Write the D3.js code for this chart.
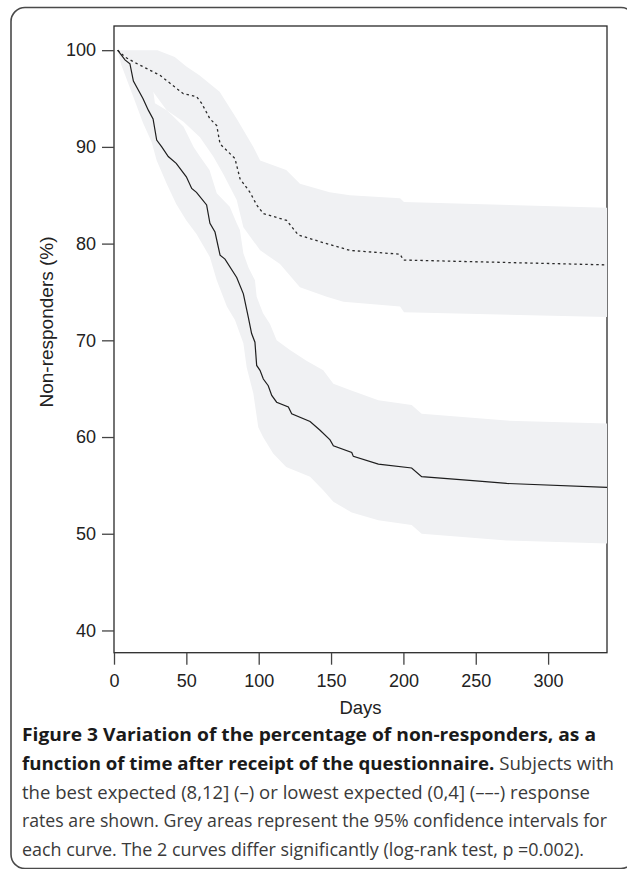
<!DOCTYPE html>
<html>
<head>
<meta charset="utf-8">
<script src="https://cdn.jsdelivr.net/npm/d3@7"></script>
<style>
  html, body { margin: 0; padding: 0; background: #fff; }
  svg { display: block; }
</style>
</head>
<body>
<svg id="chart"></svg>
<script>
// best expected (8,12] -- solid
const bestDays = [2.5, 7.6, 11, 13.4, 20, 23.7, 27, 29.5, 33, 37.5, 43, 50, 53.7, 57, 64, 66.3, 69.8, 73.3, 76.7, 84.8, 89.4, 92.8, 95.1, 97.4, 98.6, 100.9, 103.2, 106.6, 109, 112.4, 120.5, 122.8, 135.5, 142.4, 149.3, 151.6, 164.3, 165.4, 182.7, 205.7, 212.6, 248, 271.4, 340.7];
const bestPct  = [100, 99, 98.6, 96.8, 95, 93.8, 92.9, 90.7, 90, 89, 88.3, 86.9, 85.7, 85.3, 84, 82.1, 81.2, 78.8, 78.4, 76.5, 74.8, 72.4, 70.7, 69.8, 67.4, 66.9, 66, 65.3, 64.3, 63.6, 63.1, 62.4, 61.6, 60.7, 59.7, 59.1, 58.4, 58, 57.2, 56.8, 55.9, 55.5, 55.2, 54.8];

// lowest expected (0,4] -- dotted
const lowDays = [2.5, 7.6, 13.4, 31.8, 47.9, 57, 60.6, 66.3, 71, 73.3, 83.6, 87.1, 94, 98.6, 103.2, 119.3, 127.3, 142.4, 163, 197.7, 200, 340.7];
const lowPct  = [100, 99.3, 98.8, 97.4, 95.5, 95.2, 94.5, 92.9, 92.2, 90.3, 88.8, 86.7, 85.3, 84, 83.1, 82.4, 80.9, 80.2, 79.3, 78.9, 78.3, 77.8];

// 95% CI, best expected
const bestUpDays = [2.5, 10, 20, 27, 28.3, 36.4, 40, 48, 55, 59.4, 66, 71, 80, 84.8, 87, 89.4, 93, 97.4, 98.6, 103, 107.8, 112.4, 121.6, 133, 144.6, 151.6, 164, 182.7, 205.7, 212.6, 271.4, 340.7];
const bestUpPct  = [100, 99.5, 97.5, 95.9, 94.5, 93.8, 93.3, 92.1, 90, 89, 87.6, 85.2, 83.8, 82.1, 81.4, 79, 77.5, 76.2, 74.5, 72.8, 71.7, 70, 69, 67.9, 66.9, 65.5, 64.8, 63.8, 63.3, 62.4, 61.7, 61.4];
const bestLoDays = [2.5, 5, 10, 15, 20, 26, 29.5, 36.4, 43, 50, 57, 66.3, 71, 78, 83.6, 89.4, 91.7, 96.3, 99.7, 103, 110, 119, 135.5, 144.6, 151.6, 164.3, 182.7, 205.7, 212.6, 271.4, 340.7];
const bestLoPct  = [100, 98.5, 96.5, 94.5, 92.5, 90.5, 88.6, 86.2, 84.1, 82.4, 81, 78.6, 76.2, 73.5, 72.1, 69.7, 67.2, 64.5, 61, 60, 58.3, 56.9, 55.9, 54.5, 53.3, 52.2, 51.4, 50.9, 50, 49.3, 49];

// 95% CI, lowest expected
const lowUpDays = [2.5, 30, 42, 50, 59, 73, 84.8, 96.3, 101, 119, 128.5, 149, 163, 197.7, 200.4, 340.7];
const lowUpPct  = [100, 100, 99.3, 98.3, 97.4, 95.7, 92.9, 90, 88.6, 87.6, 86.2, 85.3, 85, 84.7, 84.3, 83.7];
const lowLoDays = [2.5, 10, 20, 27, 36.4, 48, 59.4, 68.6, 75.5, 84.8, 89.4, 101, 114.7, 128.5, 147, 158.5, 197.7, 200.4, 340.7];
const lowLoPct  = [100, 98, 96.8, 95.7, 93.8, 92.6, 91, 89, 87.2, 84.5, 81.7, 79.3, 77.9, 75.5, 74.5, 74, 73.5, 72.9, 72.4];

const xTicks = [0, 50, 100, 150, 200, 250, 300];
const yTicks = [40, 50, 60, 70, 80, 90, 100];

const captionLines = [
  [{t: "Figure 3 Variation of the percentage of non-responders, as a", b: true}],
  [{t: "function of time after receipt of the questionnaire.", b: true}, {t: " Subjects with", b: false}],
  [{t: "the best expected (8,12] (\u2013) or lowest expected (0,4] (\u2013\u2013-) response", b: false}],
  [{t: "rates are shown. Grey areas represent the 95% confidence intervals for", b: false}],
  [{t: "each curve. The 2 curves differ significantly (log-rank test, p =0.002).", b: false}]
];

//------------------------------

const W = 627, H = 869;
const frame = {left: 114, right: 607, top: 26, bottom: 652.7};

const svg = d3.select("#chart")
  .attr("width", W)
  .attr("height", H);

const x = d3.scaleLinear().domain([0, 340.7]).range([frame.left, frame.right]);
const y = d3.scaleLinear().domain([37.7, 102.5]).range([frame.bottom, frame.top]);

const zip = (ds, ps) => ds.map((d, i) => [d, ps[i]]);

// outer rounded border
svg.append("rect")
  .attr("x", 11)
  .attr("y", 7.5)
  .attr("width", 624)
  .attr("height", 861)
  .attr("rx", 14)
  .attr("fill", "none")
  .attr("stroke", "#4a4a4a")
  .attr("stroke-width", 1.6);

// plot frame
svg.append("rect")
  .attr("x", frame.left)
  .attr("y", frame.top)
  .attr("width", frame.right - frame.left)
  .attr("height", frame.bottom - frame.top)
  .attr("fill", "none")
  .attr("stroke", "#2a2a2a")
  .attr("stroke-width", 1.3);

// confidence bands
const line = d3.line().x(d => x(d[0])).y(d => y(d[1]));
function band(upD, upP, loD, loP){
  const pts = zip(upD, upP).concat(zip(loD, loP).reverse());
  svg.append("path")
    .attr("d", line(pts) + "Z")
    .attr("fill", "#f0f1f3")
    .attr("stroke", "none");
}
band(lowUpDays, lowUpPct, lowLoDays, lowLoPct);
band(bestUpDays, bestUpPct, bestLoDays, bestLoPct);

// curves
svg.append("path")
  .attr("d", line(zip(lowDays, lowPct)))
  .attr("fill", "none")
  .attr("stroke", "#2b2b2b")
  .attr("stroke-width", 1.3)
  .attr("stroke-dasharray", "2.5,3");
svg.append("path")
  .attr("d", line(zip(bestDays, bestPct)))
  .attr("fill", "none")
  .attr("stroke", "#1e1e1e")
  .attr("stroke-width", 1.2);

// axes
const yAxis = svg.append("g")
  .attr("transform", `translate(${frame.left},0)`)
  .call(d3.axisLeft(y).tickValues(yTicks).tickSize(12).tickPadding(6));
const xAxis = svg.append("g")
  .attr("transform", `translate(0,${frame.bottom})`)
  .call(d3.axisBottom(x).tickValues(xTicks).tickSize(12).tickPadding(10));
[xAxis, yAxis].forEach(a => {
  a.select(".domain").remove();
  a.selectAll("line").attr("stroke", "#444").attr("stroke-width", 1.3);
  a.selectAll("text")
    .attr("font-family", "'Liberation Sans', Arial, sans-serif")
    .attr("font-size", 18)
    .attr("fill", "#222");
});

svg.append("text")
  .attr("x", (frame.left + frame.right) / 2)
  .attr("y", 714)
  .attr("text-anchor", "middle")
  .attr("font-family", "'Liberation Sans', Arial, sans-serif")
  .attr("font-size", 18.5)
  .attr("fill", "#222")
  .text("Days");

svg.append("text")
  .attr("transform", "translate(53,322) rotate(-90)")
  .attr("text-anchor", "middle")
  .attr("font-family", "'Liberation Sans', Arial, sans-serif")
  .attr("font-size", 19)
  .attr("fill", "#222")
  .text("Non-responders (%)");

// caption
const capX = 22;
const capEnds = [596, 614, 590, 607, 584];
captionLines.forEach((parts, i) => {
  const t = svg.append("text")
    .attr("x", capX)
    .attr("y", 741 + i * 28.8)
    .attr("font-family", "'Open Sans', 'Noto Sans', sans-serif")
    .attr("font-size", 18)
    .attr("fill", "#333");
  parts.forEach(p => {
    t.append("tspan")
      .attr("font-weight", p.b ? 700 : 400)
      .attr("fill", p.b ? "#1a1a1a" : "#3a3a3a")
      .text(p.t);
  });
  t.attr("textLength", capEnds[i] - capX).attr("lengthAdjust", "spacingAndGlyphs");
});
</script>
</body>
</html>
